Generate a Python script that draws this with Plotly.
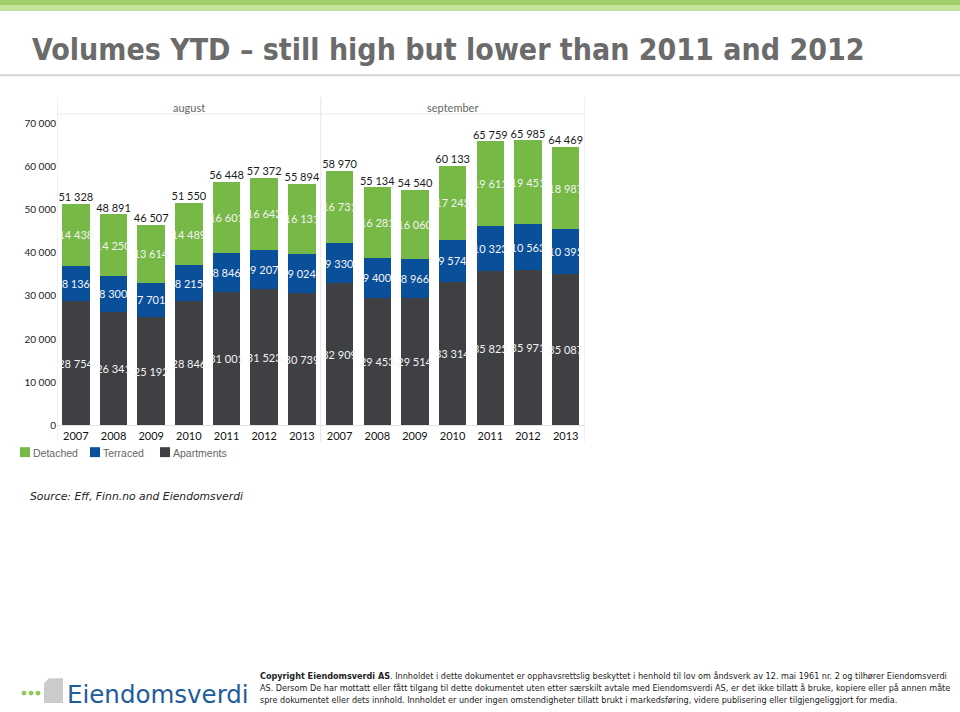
import plotly.graph_objects as go

# ---------------- data ----------------
months = ["august", "september"]
years = ["2007", "2008", "2009", "2010", "2011", "2012", "2013"]
categories = [f"{m} {y}" for m in months for y in years]

apartments = [28754, 26341, 25192, 28846, 31001, 31523, 30739,
              32909, 29453, 29514, 33314, 35825, 35971, 35087]
terraced = [8136, 8300, 7701, 8215, 8846, 9207, 9024,
            9330, 9400, 8966, 9574, 10323, 10563, 10395]
detached = [14438, 14250, 13614, 14489, 16601, 16642, 16131,
            16731, 16281, 16060, 17245, 19611, 19451, 18987]
totals = [51328, 48891, 46507, 51550, 56448, 57372, 55894,
          58970, 55134, 54540, 60133, 65759, 65985, 64469]

y_ticks = [0, 10000, 20000, 30000, 40000, 50000, 60000, 70000]
legend_names = ["Detached", "Terraced", "Apartments"]

# ---------------- helpers ----------------
W, H = 960, 712


def px_y(p):
    return (H - p) / H


def px_x(p):
    return p / W


def fmt(v):
    return f"{v:,}".replace(",", " ")


GREEN = "#76b947"
BLUE = "#0a4f9a"
DARK = "#3e4043"
LABEL_FONT = "Lato"

xs = list(range(len(categories)))

fig = go.Figure()
for name, vals, col in [("Apartments", apartments, DARK),
                        ("Terraced", terraced, BLUE),
                        ("Detached", detached, GREEN)]:
    fig.add_trace(go.Bar(
        x=xs, y=vals, name=name, marker=dict(color=col, line=dict(width=0)),
        text=[fmt(v) for v in vals], textposition="inside",
        insidetextanchor="middle", textangle=0, constraintext="none",
        textfont=dict(family=LABEL_FONT, size=11, color="#f4f4f4"),
        hoverinfo="name+y", showlegend=False,
    ))

fig.add_trace(go.Scatter(
    x=xs, y=totals, mode="text", text=[fmt(v) for v in totals],
    textposition="top center", showlegend=False,
    textfont=dict(family=LABEL_FONT, size=11, color="#1a1a1a"),
    hoverinfo="skip",
))

x0, x1 = 57, 584.5
y_zero, y_top = 429, 115.5

fig.update_layout(
    width=W, height=H, margin=dict(l=0, r=0, t=0, b=0),
    paper_bgcolor="white", plot_bgcolor="white",
    barmode="stack", bargap=0.27,
    separators=". ",
    xaxis=dict(domain=[px_x(x0), px_x(x1)], range=[-0.5, len(xs) - 0.5],
               tickvals=xs, ticktext=years * 2, showgrid=False, zeroline=False,
               showline=True, linecolor="#e4e4e4", linewidth=1, ticks="",
               tickfont=dict(family=LABEL_FONT, size=11, color="#111")),
    yaxis=dict(domain=[px_y(y_zero), px_y(y_top)], range=[0, 72000],
               tickvals=y_ticks, tickformat=",d", showgrid=False,
               zeroline=False, showline=False, ticks="",
               tickfont=dict(family=LABEL_FONT, size=10, color="#222")),
    showlegend=False,
)

shapes = []
# top green band
shapes.append(dict(type="rect", xref="paper", yref="paper", x0=0, x1=1,
                   y0=px_y(5), y1=1, fillcolor="#a3cf6a", line=dict(width=0)))
shapes.append(dict(type="rect", xref="paper", yref="paper", x0=0, x1=1,
                   y0=px_y(11), y1=px_y(5), fillcolor="#c4e29c", line=dict(width=0)))
# title rule
shapes.append(dict(type="line", xref="paper", yref="paper", x0=0, x1=1,
                   y0=px_y(76), y1=px_y(76), line=dict(color="#d4d4d4", width=2)))
# header band lines
shapes.append(dict(type="line", xref="paper", yref="paper", x0=px_x(x0), x1=px_x(x1),
                   y0=px_y(115), y1=px_y(115), line=dict(color="#e8e8e8", width=1)))
for xv in [-0.5, 6.5, len(xs) - 0.5]:
    shapes.append(dict(type="line", xref="x", yref="paper", x0=xv, x1=xv,
                       y0=px_y(446), y1=px_y(98), line=dict(color="#e4e4e4", width=1)))
# legend swatches
legend_colors = [GREEN, BLUE, DARK]
legend_x = [20, 90, 160]
for lx, col in zip(legend_x, legend_colors):
    shapes.append(dict(type="rect", xref="paper", yref="paper",
                       x0=px_x(lx), x1=px_x(lx + 10), y0=px_y(461), y1=px_y(451),
                       fillcolor=col, line=dict(width=0)))
# logo
shapes.append(dict(type="path", xref="paper", yref="paper",
                   path=f"M {px_x(49)},{px_y(684)} L {px_x(63)},{px_y(684)} L {px_x(63)},{px_y(709)} "
                        f"L {px_x(44)},{px_y(709)} L {px_x(44)},{px_y(689)} Z",
                   fillcolor="#c9cbcd", line=dict(width=0)))
for cx in [24, 31, 38]:
    shapes.append(dict(type="circle", xref="paper", yref="paper",
                       x0=px_x(cx - 2.5), x1=px_x(cx + 2.5), y0=px_y(701.5), y1=px_y(696.5),
                       fillcolor="#93c95a", line=dict(width=0)))
fig.update_layout(shapes=shapes)

ann = []
ann.append(dict(text="<b>Volumes YTD – still high but lower than 2011 and 2012</b>",
                x=px_x(30), y=px_y(50), xref="paper", yref="paper",
                xanchor="left", yanchor="middle", showarrow=False,
                font=dict(family="DejaVu Sans Condensed", size=30, color="#6b6b6b")))
for i, m in enumerate(months):
    ann.append(dict(text=m, x=3 + 7 * i, y=px_y(108), xref="x", yref="paper",
                    xanchor="center", yanchor="middle", showarrow=False,
                    font=dict(family=LABEL_FONT, size=11, color="#666")))
for lx, name in zip(legend_x, legend_names):
    ann.append(dict(text=name, x=px_x(lx + 11), y=px_y(457), xref="paper", yref="paper",
                    xanchor="left", yanchor="middle", showarrow=False,
                    font=dict(family="Liberation Sans", size=10.5, color="#666")))
ann.append(dict(text="<i>Source: Eff, Finn.no and Eiendomsverdi</i>",
                x=px_x(28), y=px_y(501), xref="paper", yref="paper",
                xanchor="left", yanchor="middle", showarrow=False,
                font=dict(family="DejaVu Sans", size=10.8, color="#222")))
ann.append(dict(text="Eiendomsverdi", x=px_x(65), y=px_y(700), xref="paper", yref="paper",
                xanchor="left", yanchor="middle", showarrow=False,
                font=dict(family="DejaVu Sans", size=24.5, color="#1f5c9c")))
copy_lines = [
    "<b>Copyright Eiendomsverdi AS</b>. Innholdet i dette dokumentet er opphavsrettslig beskyttet i henhold til lov om åndsverk av 12. mai 1961 nr. 2 og tilhører Eiendomsverdi",
    "AS. Dersom De har mottatt eller fått tilgang til dette dokumentet uten etter særskilt avtale med Eiendomsverdi AS, er det ikke tillatt å bruke, kopiere eller på annen måte",
    "spre dokumentet eller dets innhold. Innholdet er under ingen omstendigheter tillatt brukt i markedsføring, videre publisering eller tilgjengeliggjort for media.",
]
for i, line in enumerate(copy_lines):
    ann.append(dict(text=line, x=px_x(258), y=px_y(682 + 12 * i), xref="paper", yref="paper",
                    xanchor="left", yanchor="middle", showarrow=False,
                    font=dict(family="DejaVu Sans Condensed", size=9, color="#222")))
fig.update_layout(annotations=ann)

fig.write_html("out.html", config={"displayModeBar": False},
               post_script="document.body.style.margin='0';")
